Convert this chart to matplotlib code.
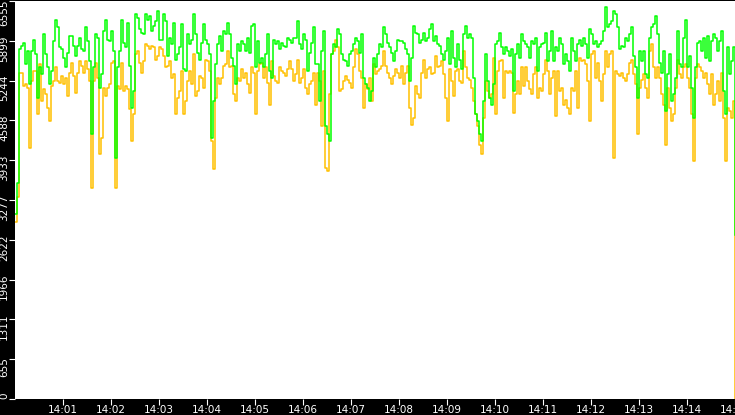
import numpy as np
import matplotlib
matplotlib.use('Agg')
import matplotlib.pyplot as plt
import matplotlib.transforms as mtransforms

# seconds after 14:00:00, one sample every 2.5 s
seconds = np.arange(0, 900.1, 2.5)

green = [
    3040, 3560, 5760, 5810, 5870, 5510, 5730, 5180, 5730, 5920,
    5680, 4960, 5460, 5350, 6010, 5680, 5460, 5180, 5400, 5900,
    6250, 6120, 5790, 5760, 5620, 5460, 5700, 5980, 5980, 5810,
    5650, 5810, 5950, 5760, 5730, 6120, 5900, 5570, 4360, 5460,
    6010, 5950, 5130, 5350, 6060, 6250, 5920, 5900, 6060, 5730,
    3970, 5460, 5730, 6250, 5870, 5790, 6200, 5480, 4800, 5070,
    6340, 6280, 6090, 6030, 6010, 6340, 6250, 6310, 6060, 6140,
    6230, 6390, 5920, 5920, 6340,
    6230, 5650, 5950, 5840, 6200, 5590, 5680, 5790, 6170, 5430,
    5400, 6010, 5840, 5920, 6340, 6010, 5700, 5590, 5870, 6170,
    5920, 5840, 5680, 4300, 4910, 5510, 5840, 5980, 5730, 6060,
    6010, 6200, 6010, 5620, 5480, 5180, 5840, 5730, 5900, 5840,
    5730, 5950, 5700, 6140, 6170, 5460, 5900, 5540, 5620, 5460,
    5680, 6010, 5400, 5290, 5920, 5840, 5900, 5760, 5870, 5810,
    5790, 5950, 5920, 5870, 5950, 5950, 6230, 5840, 5760, 6010,
    5920, 5400, 5700, 5870, 6120,
    5510, 5510, 4910, 5730, 6060, 4490, 4360, 4250, 5680, 5840,
    5790, 6090, 6010, 5680, 5590, 5570, 5480, 5680, 5730, 5840,
    5950, 5900, 5700, 6010, 5290, 5180, 5130, 4910, 5070, 5620,
    5460, 5680, 5840, 5790, 6120, 6010, 5870, 5790, 5700, 5570,
    5730, 5920, 5900, 5900, 5870, 5760, 5680, 5240, 5620, 6140,
    6030, 6010, 5870, 5920, 6030, 5900, 5950, 6090, 6170, 5900,
    5980, 5840, 5810, 5680, 5590, 5730, 5950, 5510, 6060, 5620,
    5460, 5840, 5590, 5430,
    6010, 6140, 5950, 6010, 5950, 5290, 4690, 4580, 4360, 4250,
    4910, 5680, 5240, 4960, 4850, 5180, 5840, 5900, 6030, 5790,
    5680, 5790, 5730, 5650, 5760, 5070, 5680, 5840, 5620, 6010,
    5900, 5840, 5790, 5620, 5900, 5840, 5950, 5400, 5790, 5840,
    5870, 6030, 5570, 5730, 6060, 5570, 5790, 5730, 5950, 5840,
    5510, 5680, 5570, 5400, 5950, 5730, 5570, 5840, 5920, 5810,
    5950, 5840, 5620, 6090, 6010, 5840, 5900, 5790, 5840, 5900,
    6060, 6450, 6120, 6170,
    6230, 6390, 6340, 6120, 5760, 5810, 5790, 5950, 5900, 6010,
    6120, 5650, 5460, 4960, 5730, 5570, 5730, 5350, 5290, 5950,
    6120, 6170, 6310, 6010, 5540, 5370, 5730, 4740, 5350, 5680,
    4910, 5020, 5290, 6060, 5510, 5460, 5950, 6250, 5460, 5650,
    5130, 4630, 5460, 5870, 5900, 5730, 5950, 5620, 5980, 5570,
    5900, 6010, 5950, 5730, 5900, 6060, 5070, 4690, 5790, 5350,
    5570, 5790, 2700,
]

yellow = [
    2920, 3330, 5370, 5370, 5150, 5180, 5130, 4140, 5240, 5400,
    5400, 4690, 5510, 4910, 5100, 5020, 4800, 4580, 5150, 5240,
    5460, 5240, 5210, 5320, 5180, 5290, 4990, 5370, 5540, 5320,
    5040, 5370, 5570, 5480, 5370, 5570, 5430, 5240, 3480, 5240,
    5540, 5290, 4030, 4300, 5130, 4990, 5130, 5180, 5540, 5570,
    3480, 5150, 5100, 5540, 5070, 5150, 5100, 4770, 4250, 4690,
    5680, 5730, 5540, 5370, 5570, 5840, 5810, 5760, 5810, 5790,
    5590, 5650, 5790, 5760, 5650,
    5460, 5480, 5570, 5290, 5350, 4690, 4960, 5070, 5400, 4690,
    4910, 5240, 5400, 5180, 5680, 4990, 5070, 5320, 5290, 5130,
    5590, 5570, 5400, 4250, 3780, 4960, 5290, 5180, 5290, 5480,
    5510, 5730, 5460, 5480, 5020, 4910, 5290, 5240, 5430, 5290,
    5370, 5180, 5040, 5460, 5370, 4690, 5400, 5510, 5540, 5290,
    5460, 5210, 4850, 5570, 5320, 5240, 5210, 5460, 5400, 5370,
    5320, 5430, 5570, 5430, 5240, 5350, 5590, 5210, 5290, 5430,
    5130, 5020, 5180, 5240, 5370,
    4850, 5370, 5240, 4490, 5400, 3810, 3750, 5020, 5680, 5730,
    5920, 5790, 5070, 5100, 5240, 5320, 5260, 5210, 5130, 5460,
    5760, 5680, 5400, 5290, 4800, 5180, 5100, 5290, 4910, 5510,
    5350, 5400, 5430, 5480, 5730, 5480, 5370, 5290, 5180, 5320,
    5430, 5370, 5290, 5480, 5180, 5370, 5480, 4800, 4520, 4630,
    5150, 5020, 4960, 5370, 5590, 5290, 5430, 5460, 5350, 5370,
    5650, 5460, 5480, 5570, 5350, 4960, 4580, 5430, 5240, 4990,
    5400, 5430, 5240, 5210,
    5730, 5460, 5290, 5260, 5130, 4910, 4690, 4490, 4190, 4030,
    4630, 5240, 5070, 4960, 5020, 5620, 4690, 5400, 5570, 5590,
    4960, 5400, 5370, 5400, 5370, 4710, 5020, 5240, 5020, 5460,
    5150, 5460, 5240, 5100, 5020, 5350, 5460, 4960, 5130, 5070,
    5350, 5590, 5400, 5020, 5290, 5400, 4660, 5400, 5070, 5130,
    4850, 4930, 4800, 4690, 5130, 5070, 5400, 4800, 5620, 5570,
    5590, 5510, 5240, 4580, 5680, 5730, 5290, 5540, 5240, 4910,
    5350, 5730, 5460, 5680,
    5730, 3970, 5400, 5350, 5320, 5370, 5290, 5240, 5350, 5540,
    5590, 5350, 5180, 4360, 5130, 5260, 5350, 5130, 4960, 5730,
    5840, 5460, 5290, 5460, 5290, 5020, 4850, 4190, 5130, 4800,
    4580, 4690, 5130, 5590, 5350, 5290, 5460, 5510, 5290, 5130,
    4690, 3920, 5290, 5510, 5460, 5400, 5290, 5370, 5180, 5020,
    5350, 4850, 5020, 5240, 4910, 5370, 4630, 3920, 4800, 4740,
    4630, 4910, 0,
]

x_ticks = list(range(60, 901, 60))
x_labels = ['14:%02d' % m for m in range(1, 16)]
y_ticks = [0, 655.5, 1311, 1966.5, 2622, 3277.5, 3933, 4588.5, 5244, 5899.5, 6555]
y_labels = ['0', '655', '1311', '1966', '2622', '3277', '3933', '4588', '5244', '5899', '6555']

fig = plt.figure(figsize=(7.35, 4.15), dpi=100, facecolor='black')
ax = fig.add_axes([15 / 735, 16 / 415, 720 / 735, 398 / 415])
ax.set_facecolor('white')
for s in ax.spines.values():
    s.set_visible(False)

ax.plot(seconds, yellow, color='#ffc000', lw=1.1, drawstyle='steps-post')
ax.plot(seconds, green, color='#00ff00', lw=1.1, drawstyle='steps-post')

ax.set_xlim(0, 900.5)
ax.set_ylim(0, 6555)

ax.set_xticks(x_ticks)
ax.set_xticklabels(x_labels)
ax.set_yticks(y_ticks)
ax.set_yticklabels(y_labels, rotation=90, va='center')
ax.tick_params(colors='white', labelcolor='white', length=4, width=0.8,
               labelsize=7.5, pad=0.3, direction='out')

# vertical labels sit a little below their tick
for lab, txt in zip(ax.get_yticklabels(), y_labels):
    dy = -7.5
    if txt == '0':
        dy = 3
    elif txt == '6555':
        dy = -12
    off = mtransforms.ScaledTranslation(0, dy / 100, fig.dpi_scale_trans)
    lab.set_transform(lab.get_transform() + off)

fig.savefig('out.png', dpi=100, facecolor='black')
